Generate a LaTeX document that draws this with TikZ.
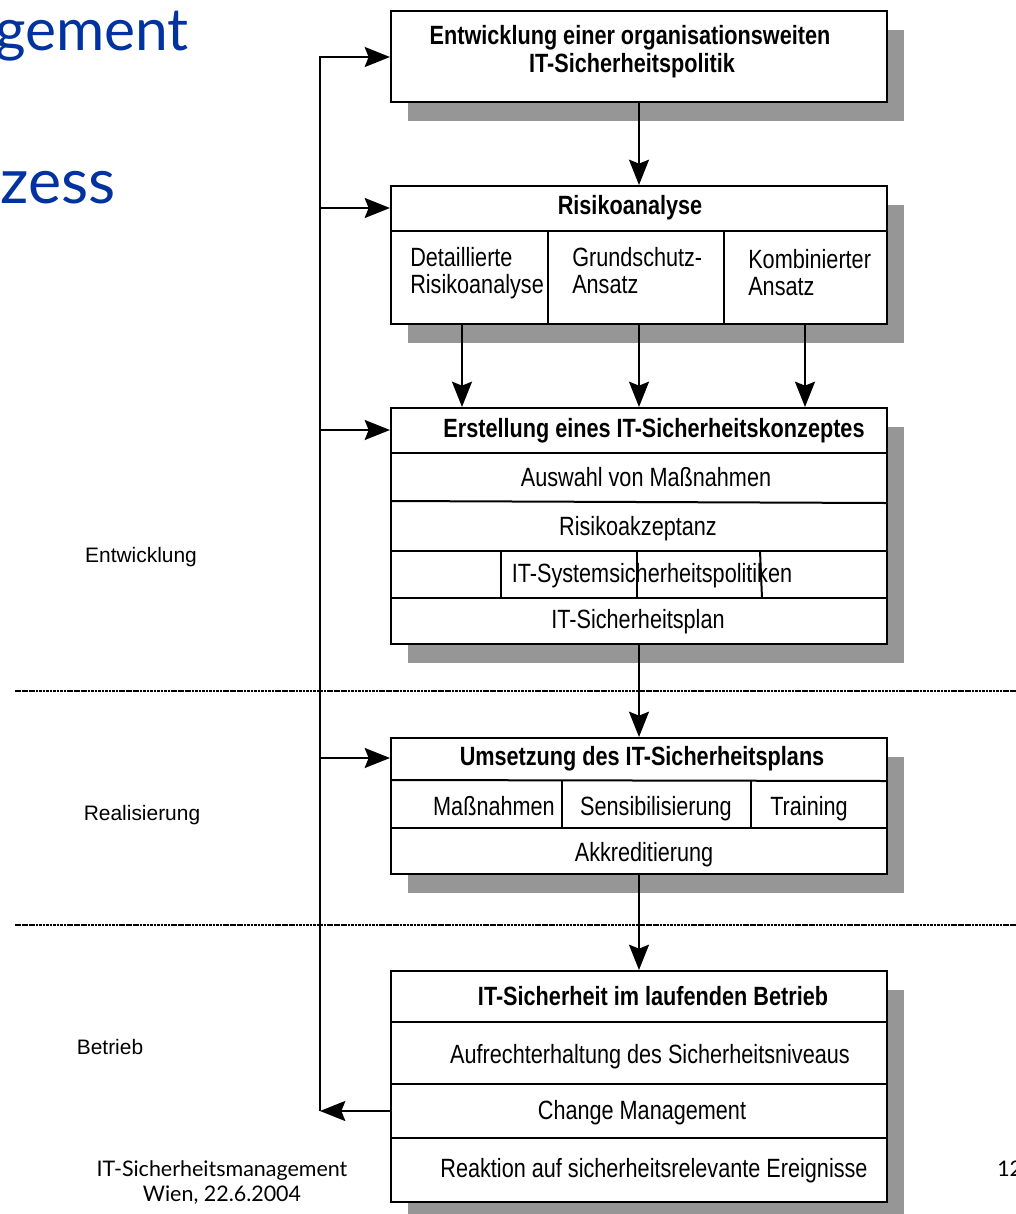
\documentclass[tikz,border=0pt]{standalone}
\usepackage{fontspec}
\setmainfont{Liberation Sans}
\newfontfamily\narrowfont[FakeStretch=0.82]{Liberation Sans}
\newfontfamily\slidefont{Lato}
\usetikzlibrary{arrows.meta,shadows}
\definecolor{slideblue}{RGB}{0,51,160}
\definecolor{shadowgray}{RGB}{150,150,150}

\begin{document}
\begin{tikzpicture}[x=0.75pt,y=-0.75pt,
  frame/.style={draw, line width=1.5pt, fill=white, inner sep=0pt, anchor=north west,
    general shadow={fill=shadowgray, shadow xshift=12.75pt, shadow yshift=-14.25pt}},
  rule/.style={line width=1.5pt},
  arr/.style={line width=1.5pt, -{Stealth[length=19pt,width=15pt,inset=3pt]}},
  phaseline/.style={line width=1.3pt, dash pattern=on 2pt off 0.6pt},
  boxtext/.style={font=\narrowfont\fontsize{19.8}{23}\selectfont, anchor=base, inner sep=0pt},
  boxhead/.style={font=\narrowfont\bfseries\fontsize{19.8}{23}\selectfont, anchor=base, inner sep=0pt},
  phase/.style={font=\fontsize{15.7}{18}\selectfont, anchor=base, inner sep=0pt},
  foot/.style={font=\slidefont\fontsize{16.1}{18}\selectfont, anchor=base, inner sep=0pt},
  title/.style={font=\slidefont, text=slideblue, anchor=base west, inner sep=0pt}
]
\useasboundingbox (0,0) rectangle (1016,1214);

% slide title fragments and footer
\node[title, font=\slidefont\fontsize{44}{50}\selectfont] (ttl1) at (-5,50) {gement};
\node[title, font=\slidefont\fontsize{47}{54}\selectfont] (ttl2) at (0,203) {zess};
\node[foot] (ft1) at (222,1176) {IT-Sicherheitsmanagement};
\node[foot] (ft2) at (222,1201) {Wien, 22.6.2004};
\node[foot, anchor=base west] (pgno) at (997,1176) {12};

% phase separators and labels
\draw[phaseline] (15,691) -- (1016,691);
\draw[phaseline] (15,925) -- (1016,925);
\node[phase] (ph1) at (141,562) {Entwicklung};
\node[phase] (ph2) at (142,820) {Realisierung};
\node[phase] (ph3) at (110,1054) {Betrieb};

% box frames
\node[frame, minimum width=372pt, minimum height=68.25pt] (b1) at (390,10) {};
\node[frame, minimum width=372pt, minimum height=103.5pt] (b2) at (390,185) {};
\node[frame, minimum width=372pt, minimum height=177pt] (b3) at (390,407) {};
\node[frame, minimum width=372pt, minimum height=102pt] (b4) at (390,737) {};
\node[frame, minimum width=372pt, minimum height=173.25pt] (b5) at (390,970) {};

% box 1
\node[boxhead] (t1a) at (630,44) {Entwicklung einer organisationsweiten};
\node[boxhead] (t1b) at (632,72) {IT-Sicherheitspolitik};

% box 2
\draw[rule] (390,231) -- (886,231);
\draw[rule] (548,231) -- (548,323);
\draw[rule] (724,231) -- (724,323);
\node[boxhead] (t2) at (630,214) {Risikoanalyse};
\node[boxtext, anchor=base west] (t21a) at (410,266) {Detaillierte};
\node[boxtext, anchor=base west] (t21b) at (410,293) {Risikoanalyse};
\node[boxtext, anchor=base west] (t22a) at (572,266) {Grundschutz-};
\node[boxtext, anchor=base west] (t22b) at (572,293) {Ansatz};
\node[boxtext, anchor=base west] (t23a) at (748,268) {Kombinierter};
\node[boxtext, anchor=base west] (t23b) at (748,295) {Ansatz};

% box 3
\draw[rule] (390,453) -- (886,453);
\draw[rule] (390,501) -- (886,503);
\draw[rule] (390,551) -- (886,551);
\draw[rule] (390,598) -- (886,598);
\draw[rule] (501,551) -- (501,598);
\draw[rule] (637,551) -- (637,598);
\draw[rule] (760,551) -- (762,598);
\node[boxhead] (t3) at (654,437) {Erstellung eines IT-Sicherheitskonzeptes};
\node[boxtext] (t31) at (646,486) {Auswahl von Maßnahmen};
\node[boxtext] (t32) at (638,535) {Risikoakzeptanz};
\node[boxtext] (t33) at (652,582) {IT-Systemsicherheitspolitiken};
\node[boxtext] (t34) at (638,628) {IT-Sicherheitsplan};

% box 4
\draw[rule] (390,780) -- (886,781);
\draw[rule] (390,828) -- (886,828);
\draw[rule] (562,780) -- (562,828);
\draw[rule] (751,780) -- (751,828);
\node[boxhead] (t4) at (642,765) {Umsetzung des IT-Sicherheitsplans};
\node[boxtext, anchor=base east] (t41) at (555,815) {Maßnahmen};
\node[boxtext] (t42) at (656,815) {Sensibilisierung};
\node[boxtext] (t43) at (809,815) {Training};
\node[boxtext] (t44) at (644,861) {Akkreditierung};

% box 5
\draw[rule] (390,1022) -- (886,1022);
\draw[rule] (390,1084) -- (886,1084);
\draw[rule] (390,1138) -- (886,1138);
\node[boxhead] (t5) at (653,1005) {IT-Sicherheit im laufenden Betrieb};
\node[boxtext] (t51) at (650,1063) {Aufrechterhaltung des Sicherheitsniveaus};
\node[boxtext] (t52) at (642,1119) {Change Management};
\node[boxtext] (t53) at (654,1177) {Reaktion auf sicherheitsrelevante Ereignisse};

% flow between the boxes
\coordinate (a1) at (462,0);
\coordinate (a3) at (805,0);
\draw[arr] (b1.south) -- (b2.north);
\draw[arr] (a1 |- b2.south) -- (a1 |- b3.north);
\draw[arr] (b2.south) -- (b3.north);
\draw[arr] (a3 |- b2.south) -- (a3 |- b3.north);
\draw[arr] (b3.south) -- (b4.north);
\draw[arr] (b4.south) -- (b5.north);

% feedback loop from operation back to every phase
\coordinate (sTop) at (320,57);
\coordinate (sBot) at (320,1111);
\coordinate (j2) at (320,208);
\coordinate (j3) at (320,430);
\coordinate (j4) at (320,758);
\draw[arr] (sBot) -- (sTop) -- (sTop -| b1.west);
\draw[arr] (j2) -- (j2 -| b2.west);
\draw[arr] (j3) -- (j3 -| b3.west);
\draw[arr] (j4) -- (j4 -| b4.west);
\draw[arr] (sBot -| b5.west) -- (sBot);
\end{tikzpicture}
\end{document}
